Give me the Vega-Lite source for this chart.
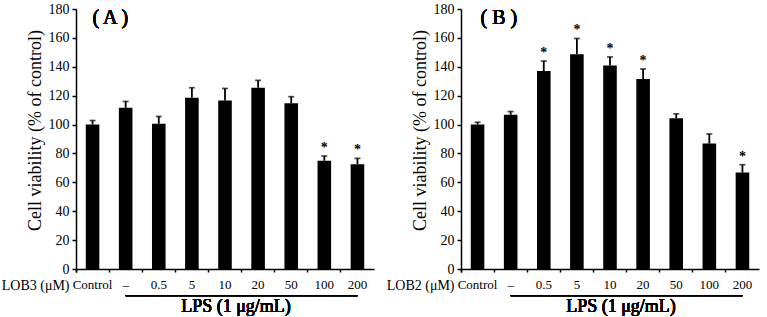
{
  "$schema": "https://vega.github.io/schema/vega-lite/v6.json",
  "padding": {"left": 1, "top": 2, "right": 2, "bottom": 2},
  "config": {
    "font": "Liberation Serif",
    "view": {"stroke": null},
    "axis": {"domainColor": "black", "tickColor": "black", "labelColor": "black", "titleColor": "black", "grid": false, "domainWidth": 1.5, "tickWidth": 1.5, "titleFontWeight": "normal"},
    "axisY": {"labelFontSize": 14, "labelPadding": 3, "tickSize": 4, "titleFontSize": 18, "titleY": 121, "labelOverlap": false}
  },
  "hconcat": [
    {
      "width": 298,
      "height": 260,
      "data": {"values": [
        {"dose": "Control", "mean": 100, "upper": 102.8, "sig": ""},
        {"dose": "–", "mean": 111.6, "upper": 116, "sig": ""},
        {"dose": "0.5", "mean": 100.5, "upper": 105.6, "sig": ""},
        {"dose": "5", "mean": 118.6, "upper": 125.5, "sig": ""},
        {"dose": "10", "mean": 116.7, "upper": 125, "sig": ""},
        {"dose": "20", "mean": 125.5, "upper": 130.6, "sig": ""},
        {"dose": "50", "mean": 114.8, "upper": 119.3, "sig": ""},
        {"dose": "100", "mean": 74.9, "upper": 78.2, "sig": "*"},
        {"dose": "200", "mean": 72.6, "upper": 76.6, "sig": "*"}
      ]},
      "encoding": {
        "x": {"field": "dose", "type": "nominal", "sort": null,
          "scale": {"domain": ["Control", "–", "0.5", "5", "10", "20", "50", "100", "200"], "paddingInner": 0, "paddingOuter": 0},
          "axis": {"labelAngle": 0, "labelFontSize": 13, "labelPadding": 6, "tickSize": 3, "bandPosition": 0, "tickExtra": true,
            "title": "LOB3 (μM)", "titleFontSize": 14, "titleAngle": 0, "titleAlign": "right", "titleBaseline": "top", "titleX": -7, "titleY": 9}}
      },
      "layer": [
        {"mark": {"type": "bar", "color": "black", "width": {"band": 0.41}},
          "encoding": {"y": {"field": "mean", "type": "quantitative", "scale": {"domain": [0, 180], "nice": false},
            "axis": {"values": [0, 20, 40, 60, 80, 100, 120, 140, 160, 180], "title": "Cell viability (% of control)"}}}},
        {"mark": {"type": "rule", "color": "black", "strokeWidth": 1.8},
          "encoding": {"y": {"field": "mean", "type": "quantitative", "axis": {"values": [0, 20, 40, 60, 80, 100, 120, 140, 160, 180], "title": "Cell viability (% of control)"}}, "y2": {"field": "upper"}}},
        {"mark": {"type": "tick", "color": "black", "size": 6, "thickness": 1.7, "orient": "horizontal"},
          "encoding": {"y": {"field": "upper", "type": "quantitative", "axis": {"values": [0, 20, 40, 60, 80, 100, 120, 140, 160, 180], "title": "Cell viability (% of control)"}}}},
        {"mark": {"type": "text", "fontSize": 14, "fontWeight": "bold", "baseline": "alphabetic", "dy": -4, "color": "black"},
          "encoding": {"y": {"field": "upper", "type": "quantitative", "axis": {"values": [0, 20, 40, 60, 80, 100, 120, 140, 160, 180], "title": "Cell viability (% of control)"}}, "text": {"field": "sig"}}},
        {"mark": {"type": "rule", "color": "black", "strokeWidth": 1.3},
          "encoding": {"x": {"datum": "–"}, "x2": {"datum": "200"}, "y": {"datum": -18.5, "type": "quantitative", "axis": {"values": [0, 20, 40, 60, 80, 100, 120, 140, 160, 180], "title": "Cell viability (% of control)"}}}},
        {"mark": {"type": "text", "text": "LPS (1 μg/mL)", "fontSize": 18, "fontWeight": "normal", "baseline": "alphabetic", "align": "center", "dx": 11, "color": "black"},
          "encoding": {"x": {"datum": "10"}, "y": {"datum": -29.6, "type": "quantitative", "axis": {"values": [0, 20, 40, 60, 80, 100, 120, 140, 160, 180], "title": "Cell viability (% of control)"}}}},
        {"mark": {"type": "text", "text": "( A )", "fontSize": 20, "baseline": "alphabetic", "align": "left", "color": "black"},
          "encoding": {"x": {"datum": "Control"}, "y": {"datum": 169.6, "type": "quantitative", "axis": {"values": [0, 20, 40, 60, 80, 100, 120, 140, 160, 180], "title": "Cell viability (% of control)"}}}}
      ]
    },
    {
      "width": 298,
      "height": 260,
      "data": {"values": [
        {"dose": "Control", "mean": 100, "upper": 101.6, "sig": ""},
        {"dose": "–", "mean": 106.8, "upper": 109, "sig": ""},
        {"dose": "0.5", "mean": 137.1, "upper": 144, "sig": "*"},
        {"dose": "5", "mean": 148.7, "upper": 159.6, "sig": "*"},
        {"dose": "10", "mean": 140.8, "upper": 146.8, "sig": "*"},
        {"dose": "20", "mean": 131.5, "upper": 138.5, "sig": "*"},
        {"dose": "50", "mean": 104.4, "upper": 107.4, "sig": ""},
        {"dose": "100", "mean": 86.8, "upper": 93.5, "sig": ""},
        {"dose": "200", "mean": 66.8, "upper": 72.2, "sig": "*"}
      ]},
      "encoding": {
        "x": {"field": "dose", "type": "nominal", "sort": null,
          "scale": {"domain": ["Control", "–", "0.5", "5", "10", "20", "50", "100", "200"], "paddingInner": 0, "paddingOuter": 0},
          "axis": {"labelAngle": 0, "labelFontSize": 13, "labelPadding": 6, "tickSize": 3, "bandPosition": 0, "tickExtra": true,
            "title": "LOB2 (μM)", "titleFontSize": 14, "titleAngle": 0, "titleAlign": "right", "titleBaseline": "top", "titleX": -7, "titleY": 9}}
      },
      "layer": [
        {"mark": {"type": "bar", "color": "black", "width": {"band": 0.41}},
          "encoding": {"y": {"field": "mean", "type": "quantitative", "scale": {"domain": [0, 180], "nice": false},
            "axis": {"values": [0, 20, 40, 60, 80, 100, 120, 140, 160, 180], "title": "Cell viability (% of control)"}}}},
        {"mark": {"type": "rule", "color": "black", "strokeWidth": 1.8},
          "encoding": {"y": {"field": "mean", "type": "quantitative", "axis": {"values": [0, 20, 40, 60, 80, 100, 120, 140, 160, 180], "title": "Cell viability (% of control)"}}, "y2": {"field": "upper"}}},
        {"mark": {"type": "tick", "color": "black", "size": 6, "thickness": 1.7, "orient": "horizontal"},
          "encoding": {"y": {"field": "upper", "type": "quantitative", "axis": {"values": [0, 20, 40, 60, 80, 100, 120, 140, 160, 180], "title": "Cell viability (% of control)"}}}},
        {"mark": {"type": "text", "fontSize": 14, "fontWeight": "bold", "baseline": "alphabetic", "dy": -4, "color": "black"},
          "encoding": {"y": {"field": "upper", "type": "quantitative", "axis": {"values": [0, 20, 40, 60, 80, 100, 120, 140, 160, 180], "title": "Cell viability (% of control)"}}, "text": {"field": "sig"}}},
        {"mark": {"type": "rule", "color": "black", "strokeWidth": 1.3},
          "encoding": {"x": {"datum": "–"}, "x2": {"datum": "200"}, "y": {"datum": -18.5, "type": "quantitative", "axis": {"values": [0, 20, 40, 60, 80, 100, 120, 140, 160, 180], "title": "Cell viability (% of control)"}}}},
        {"mark": {"type": "text", "text": "LPS (1 μg/mL)", "fontSize": 18, "fontWeight": "normal", "baseline": "alphabetic", "align": "center", "dx": 11, "color": "black"},
          "encoding": {"x": {"datum": "10"}, "y": {"datum": -29.6, "type": "quantitative", "axis": {"values": [0, 20, 40, 60, 80, 100, 120, 140, 160, 180], "title": "Cell viability (% of control)"}}}},
        {"mark": {"type": "text", "text": "( B )", "fontSize": 20, "baseline": "alphabetic", "align": "left", "dx": 3, "color": "black"},
          "encoding": {"x": {"datum": "Control"}, "y": {"datum": 169.6, "type": "quantitative", "axis": {"values": [0, 20, 40, 60, 80, 100, 120, 140, 160, 180], "title": "Cell viability (% of control)"}}}}
      ]
    }
  ],
  "spacing": 87,
  "bounds": "flush"
}
